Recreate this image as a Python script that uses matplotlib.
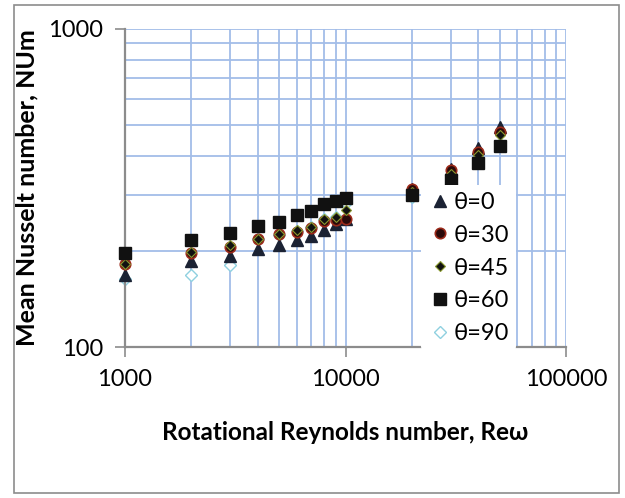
import matplotlib
matplotlib.use("Agg")
import matplotlib.pyplot as plt
from matplotlib.patches import Rectangle

plt.rcParams['font.family'] = ['Lato', 'DejaVu Sans']

# Rotational Reynolds number
re_w = [1000, 2000, 3000, 4000, 5000, 6000, 7000, 8000, 9000, 10000,
        20000, 30000, 40000, 50000]

# Mean Nusselt number per inclination angle
nu_0 = [168, 187, 193, 204, 210, 217, 224, 234, 244, 253, 315, 364, 421, 493]
nu_30 = [183, 197, 206, 219, 226, 230, 237, 249, 250, 252, 315, 360, 411, 475]
nu_45 = [183, 199, 209, 219, 227, 233, 239, 253, 256, 270, 307, 351, 401, 464]
nu_60 = [198, 217, 229, 240, 247, 260, 267, 281, 287, 295, 300, 335, 378, 429]
nu_90 = [164, 169, 181, 218, 225, 231, 238, 252, 257, 283, 297, 319, 387, 436]

labels = ["θ=0", "θ=30", "θ=45", "θ=60", "θ=90"]

fig = plt.figure(figsize=(6.25, 4.98), dpi=100)
ax = fig.add_axes([0.2, 0.303, 0.706, 0.639])

# outer chart frame
fig.patches.append(Rectangle((0.023, 0.01), 0.968, 0.98, transform=fig.transFigure,
                             fill=False, edgecolor='#8c8c8c', lw=1.2))

ax.plot(re_w, nu_0, '^', ms=9, mfc='#1b2233', mec='#1b2233', label=labels[0],
        zorder=3, clip_on=False)
ax.plot(re_w, nu_30, 'o', ms=7.5, mfc='#2a0a0a', mec='#9b2a1a', mew=1.2, label=labels[1],
        zorder=3, clip_on=False)
ax.plot(re_w, nu_45, 'D', ms=5, mfc='#111111', mec='#8a9a30', mew=0.8, label=labels[2],
        zorder=3, clip_on=False)
ax.plot(re_w, nu_60, 's', ms=8.5, mfc='#111111', mec='#111111', label=labels[3],
        zorder=3, clip_on=False)
# theta=90 sits underneath the other series
ax.plot(re_w, nu_90, 'D', ms=6.5, mfc='white', mec='#8fd0e0', mew=1.0, label=labels[4],
        zorder=2.5, clip_on=False)

ax.set_xscale('log')
ax.set_yscale('log')
ax.set_xlim(1000, 100000)
ax.set_ylim(100, 1000)

ax.set_xticks([1000, 10000, 100000])
ax.set_xticklabels(['1000', '10000', '100000'])
ax.set_yticks([100, 1000])
ax.set_yticklabels(['100', '1000'])
ax.tick_params(axis='both', which='major', labelsize=17, length=7, width=1.2,
               color='#8c8c8c', pad=9)
ax.tick_params(axis='both', which='minor', length=0)
ax.tick_params(axis='y', which='minor', labelleft=False)
ax.tick_params(axis='x', which='minor', labelbottom=False)

ax.grid(True, which='both', color='#a3bde8', lw=1.3)
ax.set_axisbelow(True)

for s in ['top', 'right']:
    ax.spines[s].set_visible(False)
for s in ['left', 'bottom']:
    ax.spines[s].set_color('#8c8c8c')
    ax.spines[s].set_linewidth(1.6)

ax.set_xlabel("Rotational Reynolds number, Reω", fontsize=17.5, fontweight='bold',
              labelpad=22)
ax.set_ylabel("Mean Nusselt number, NUm", fontsize=18, fontweight='bold', labelpad=7)

leg = ax.legend(loc='upper left', bbox_to_anchor=(0.67, 0.51), frameon=True,
                fontsize=17, handletextpad=0.1, labelspacing=0.5,
                borderpad=0.3, handlelength=1.0, borderaxespad=0)
leg.get_frame().set_facecolor('white')
leg.get_frame().set_edgecolor('none')
leg.get_frame().set_alpha(1)
leg.set_zorder(5)

fig.savefig("out.png", dpi=100)
